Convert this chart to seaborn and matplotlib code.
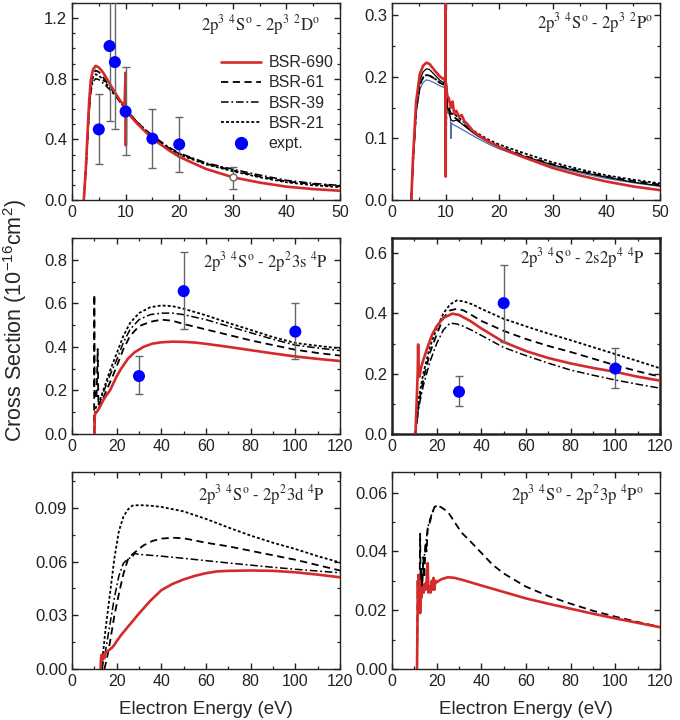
import matplotlib
matplotlib.use("Agg")
import matplotlib.pyplot as plt
import seaborn as sns
import pandas as pd
from matplotlib.lines import Line2D
from matplotlib.ticker import MultipleLocator, FormatStrFormatter

# ---------------- Panel A : 2p3 4So - 2p3 2Do ----------------
A_E_690 = [2.2, 2.6, 2.9, 3.2, 3.5, 3.9, 4.4, 5.0, 5.5, 6.0, 7.0, 8.0, 9.0, 9.8, 10.0, 10.05, 10.1, 10.3, 10.6, 11, 12, 14, 16, 18, 20, 25, 30, 35, 40, 45, 50]
A_S_690 = [0.0, 0.22, 0.44, 0.65, 0.79, 0.86, 0.885, 0.875, 0.855, 0.83, 0.77, 0.71, 0.655, 0.62, 0.84, 0.36, 0.60, 0.59, 0.575, 0.55, 0.51, 0.44, 0.38, 0.33, 0.285, 0.205, 0.15, 0.115, 0.088, 0.072, 0.061]
A_E_BL = [2.2, 2.6, 2.9, 3.2, 3.5, 3.9, 4.4, 5.0, 5.5, 6.0, 7.0, 8.0, 9.0, 10.0, 11, 12, 14, 16, 18, 20, 25, 30, 35, 40, 45, 50]
A_S_61 = [0, 0.21, 0.42, 0.62, 0.76, 0.83, 0.855, 0.845, 0.825, 0.8, 0.75, 0.7, 0.65, 0.605, 0.56, 0.52, 0.45, 0.395, 0.345, 0.305, 0.24, 0.195, 0.155, 0.122, 0.105, 0.09]
A_S_39 = [0, 0.2, 0.4, 0.58, 0.71, 0.78, 0.80, 0.795, 0.78, 0.765, 0.73, 0.69, 0.645, 0.6, 0.56, 0.52, 0.455, 0.4, 0.35, 0.31, 0.245, 0.203, 0.165, 0.13, 0.11, 0.096]
A_S_21 = [0, 0.2, 0.41, 0.6, 0.73, 0.81, 0.83, 0.82, 0.805, 0.785, 0.74, 0.695, 0.648, 0.6, 0.555, 0.515, 0.448, 0.392, 0.342, 0.3, 0.235, 0.19, 0.15, 0.117, 0.097, 0.085]
A_X_EXP = [5, 7, 8, 10, 15, 20]
A_Y_EXP = [0.466, 1.016, 0.91, 0.584, 0.405, 0.367]
A_LO_EXP = [0.24, 0.52, 0.47, 0.30, 0.21, 0.186]
A_HI_EXP = [0.70, 1.50, 1.50, 0.88, 0.60, 0.55]
A_X_OPEN = [30]
A_Y_OPEN = [0.149]
A_LO_OPEN = [0.07]
A_HI_OPEN = [0.22]

# ---------------- Panel B : 2p3 4So - 2p3 2Po ----------------
B_E_690 = [3.6, 3.9, 4.5, 5.2, 5.8, 6.4, 7.0, 8.0, 9.0, 9.7, 9.95, 10.0, 10.02, 10.04, 10.3, 10.6, 11.0, 11.3, 11.6, 12.0, 12.5, 13.0, 13.5, 14, 15, 16, 18, 20, 22, 25, 30, 35, 40, 45, 50]
B_S_690 = [0, 0.065, 0.16, 0.205, 0.218, 0.223, 0.221, 0.21, 0.2, 0.196, 0.2, 0.34, 0.038, 0.19, 0.17, 0.165, 0.15, 0.16, 0.14, 0.145, 0.135, 0.138, 0.128, 0.124, 0.113, 0.106, 0.095, 0.086, 0.078, 0.068, 0.052, 0.04, 0.03, 0.022, 0.016]
B_E_BL = [3.6, 3.9, 4.5, 5.2, 5.8, 6.4, 7.0, 8.0, 9.0, 9.7, 10.0, 10.3, 10.6, 11.0, 11.5, 12.0, 13, 14, 15, 16, 18, 20, 25, 30, 35, 40, 45, 50]
B_S_SOL = [0, 0.06, 0.15, 0.195, 0.208, 0.213, 0.212, 0.203, 0.194, 0.19, 0.2, 0.15, 0.145, 0.13, 0.128, 0.13, 0.124, 0.117, 0.11, 0.104, 0.094, 0.086, 0.07, 0.057, 0.046, 0.037, 0.029, 0.023]
B_S_61 = [0, 0.058, 0.145, 0.188, 0.199, 0.203, 0.202, 0.197, 0.19, 0.187, 0.21, 0.16, 0.15, 0.14, 0.135, 0.132, 0.126, 0.118, 0.111, 0.105, 0.095, 0.087, 0.071, 0.058, 0.047, 0.038, 0.031, 0.025]
B_E_21 = [3.6, 3.9, 4.5, 5.2, 5.8, 6.4, 7.0, 8.0, 9.0, 9.7, 9.9, 10.0, 10.1, 10.2, 10.4, 10.7, 11.0, 11.5, 12.0, 13, 14, 15, 16, 18, 20, 25, 30, 35, 40, 45, 50]
B_S_21 = [0, 0.058, 0.145, 0.188, 0.199, 0.203, 0.202, 0.197, 0.19, 0.188, 0.2, 0.25, 0.12, 0.16, 0.15, 0.145, 0.14, 0.14, 0.137, 0.13, 0.122, 0.114, 0.108, 0.098, 0.09, 0.075, 0.061, 0.05, 0.04, 0.033, 0.027]
B_E_BLU = [3.6, 3.9, 4.5, 5.2, 5.8, 6.4, 7.0, 8.0, 9.0, 9.7, 10.0, 10.3, 10.6, 10.9, 11.0, 11.1, 11.5, 12.0, 13, 14, 15, 16, 18, 20, 25, 30, 35, 40, 45, 50]
B_S_BLU = [0, 0.055, 0.14, 0.18, 0.191, 0.195, 0.194, 0.19, 0.185, 0.183, 0.19, 0.145, 0.14, 0.135, 0.10, 0.125, 0.122, 0.12, 0.115, 0.11, 0.105, 0.1, 0.091, 0.083, 0.068, 0.055, 0.044, 0.035, 0.028, 0.022]

# ---------------- Panel C : 2p3 4So - 2p2 3s 4P ----------------
C_E_690 = [10.0, 10.2, 10.5, 11, 12, 13, 14, 15, 17, 20, 22, 25, 28, 32, 36, 40, 45, 50, 55, 60, 70, 80, 90, 100, 110, 120]
C_S_690 = [0, 0.08, 0.1, 0.1, 0.115, 0.135, 0.155, 0.172, 0.2, 0.265, 0.3, 0.345, 0.375, 0.4, 0.415, 0.421, 0.424, 0.423, 0.42, 0.414, 0.4, 0.385, 0.37, 0.356, 0.345, 0.335]
C_E_61 = [9.9, 10.0, 10.1, 10.5, 11.0, 11.5, 11.8, 12.3, 13, 15, 18, 20, 23, 26, 30, 35, 40, 45, 50, 60, 70, 80, 90, 100, 110, 120]
C_S_61 = [0, 0.64, 0.2, 0.16, 0.17, 0.39, 0.15, 0.12, 0.14, 0.19, 0.26, 0.31, 0.39, 0.45, 0.495, 0.515, 0.525, 0.52, 0.505, 0.48, 0.455, 0.43, 0.408, 0.387, 0.372, 0.36]
C_E_BL = [10.0, 10.5, 12, 14, 17, 20, 23, 26, 30, 35, 40, 45, 50, 60, 70, 80, 90, 100, 110, 120]
C_S_39 = [0, 0.12, 0.13, 0.19, 0.27, 0.34, 0.42, 0.48, 0.525, 0.548, 0.555, 0.555, 0.548, 0.525, 0.495, 0.465, 0.435, 0.408, 0.395, 0.383]
C_S_21 = [0, 0.12, 0.14, 0.2, 0.29, 0.37, 0.45, 0.51, 0.555, 0.582, 0.59, 0.587, 0.575, 0.545, 0.51, 0.478, 0.445, 0.418, 0.405, 0.393]
C_X_EXP = [30, 50, 100]
C_Y_EXP = [0.266, 0.656, 0.47]
C_LO_EXP = [0.183, 0.48, 0.345]
C_HI_EXP = [0.357, 0.835, 0.603]

# ---------------- Panel D : 2p3 4So - 2s2p4 4P ----------------
D_E_690 = [10.5, 11, 11.5, 11.7, 11.9, 12.3, 13, 14, 16, 18, 20, 23, 27, 30, 35, 40, 50, 60, 70, 80, 90, 100, 110, 120]
D_S_690 = [0, 0.1, 0.2, 0.297, 0.2, 0.19, 0.22, 0.245, 0.29, 0.33, 0.357, 0.385, 0.399, 0.395, 0.375, 0.35, 0.305, 0.275, 0.252, 0.234, 0.219, 0.206, 0.19, 0.177]
D_E_BL = [10.5, 12, 14, 17, 20, 23, 26, 29, 32, 36, 40, 50, 60, 70, 80, 90, 100, 110, 120]
D_S_21 = [0, 0.12, 0.2, 0.29, 0.35, 0.4, 0.43, 0.443, 0.44, 0.43, 0.415, 0.382, 0.357, 0.333, 0.311, 0.288, 0.265, 0.242, 0.218]
D_S_61 = [0, 0.1, 0.18, 0.27, 0.33, 0.385, 0.41, 0.415, 0.41, 0.393, 0.375, 0.342, 0.315, 0.292, 0.272, 0.25, 0.228, 0.208, 0.19]
D_S_39 = [0, 0.09, 0.16, 0.24, 0.3, 0.345, 0.368, 0.365, 0.357, 0.343, 0.327, 0.287, 0.26, 0.235, 0.212, 0.195, 0.179, 0.165, 0.152]
D_X_EXP = [30, 50, 100]
D_Y_EXP = [0.14, 0.434, 0.217]
D_LO_EXP = [0.093, 0.305, 0.152]
D_HI_EXP = [0.192, 0.562, 0.284]

# ---------------- Panel E : 2p3 4So - 2p2 3d 4P ----------------
E_E_690 = [12.8, 13.0, 13.3, 13.6, 14, 14.5, 15, 16, 17, 18, 19, 20, 22, 25, 28, 30, 35, 40, 45, 50, 55, 60, 65, 70, 80, 90, 100, 110, 120]
E_S_690 = [0, 0.006, 0.008, 0.005, 0.008, 0.006, 0.009, 0.01, 0.011, 0.012, 0.0135, 0.0155, 0.019, 0.0235, 0.028, 0.031, 0.038, 0.044, 0.0475, 0.05, 0.052, 0.0535, 0.0545, 0.0548, 0.055, 0.0548, 0.054, 0.0527, 0.0512]
E_E_21 = [13, 14, 15, 17, 19, 21, 23, 25, 27, 30, 35, 40, 50, 60, 70, 80, 90, 100, 110, 120]
E_S_21 = [0, 0.01, 0.022, 0.042, 0.062, 0.077, 0.085, 0.089, 0.0912, 0.0915, 0.0912, 0.0905, 0.088, 0.0838, 0.079, 0.0745, 0.0705, 0.067, 0.063, 0.0595]
E_E_61 = [14.5, 15.5, 17, 19, 21, 23, 25, 27, 29, 32, 36, 40, 45, 50, 60, 70, 80, 90, 100, 110, 120]
E_S_61 = [0, 0.005, 0.015, 0.03, 0.042, 0.053, 0.061, 0.064, 0.066, 0.069, 0.0715, 0.0728, 0.0733, 0.073, 0.0705, 0.0685, 0.066, 0.0635, 0.061, 0.058, 0.055]
E_E_39 = [13.5, 14, 15, 17, 19, 21, 23, 25, 27, 28, 30, 35, 40, 50, 60, 70, 80, 90, 100, 110, 120]
E_S_39 = [0, 0.004, 0.01, 0.025, 0.04, 0.052, 0.059, 0.0615, 0.0625, 0.0645, 0.064, 0.0635, 0.063, 0.0618, 0.0605, 0.0592, 0.058, 0.0568, 0.0557, 0.0547, 0.0537]

# ---------------- Panel F : 2p3 4So - 2p2 3p 4Po ----------------
F_E_690 = [11.2, 11.4, 11.6, 11.8, 12.0, 12.2, 12.4, 12.6, 12.8, 13.0, 13.4, 13.8, 14.2, 14.6, 15.0, 15.5, 16.0, 16.3, 16.8, 17.3, 17.8, 18.2, 18.6, 19.0, 19.4, 20, 22, 25, 28, 32, 36, 40, 50, 60, 70, 80, 90, 100, 110, 120]
F_S_690 = [0, 0.015, 0.03, 0.022, 0.032, 0.024, 0.03, 0.019, 0.027, 0.024, 0.026, 0.028, 0.026, 0.029, 0.027, 0.03, 0.036, 0.026, 0.028, 0.026, 0.03, 0.027, 0.031, 0.027, 0.03, 0.0295, 0.0305, 0.0312, 0.031, 0.0302, 0.0293, 0.0284, 0.0262, 0.024, 0.0222, 0.0205, 0.0188, 0.0172, 0.0157, 0.0142]
F_E_61 = [11.2, 11.4, 11.6, 11.8, 12.0, 12.3, 12.6, 12.9, 13.2, 13.6, 14.0, 14.5, 15.0, 15.5, 16, 17, 18, 19, 20, 22, 25, 28, 31, 35, 40, 45, 50, 60, 70, 80, 90, 100, 110, 120]
F_S_61 = [0, 0.02, 0.032, 0.022, 0.03, 0.025, 0.046, 0.022, 0.034, 0.028, 0.038, 0.031, 0.043, 0.04, 0.048, 0.05, 0.053, 0.055, 0.0558, 0.055, 0.0535, 0.05, 0.0465, 0.0435, 0.0395, 0.0355, 0.0325, 0.028, 0.0248, 0.0222, 0.0198, 0.0178, 0.016, 0.0143]
F_E_39 = [14.0, 15.0, 16.0, 17.0, 18.0, 19.0, 20.0]
F_S_39 = [0.035, 0.042, 0.048, 0.051, 0.053, 0.055, 0.0555]

LEGEND_LABELS = ["BSR-690", "BSR-61", "BSR-39", "BSR-21", "expt."]
TITLES = [r"2p$^3$ $^4$S$^\mathrm{o}$ - 2p$^3$ $^2$D$^\mathrm{o}$",
          r"2p$^3$ $^4$S$^\mathrm{o}$ - 2p$^3$ $^2$P$^\mathrm{o}$",
          r"2p$^3$ $^4$S$^\mathrm{o}$ - 2p$^2$3s $^4$P",
          r"2p$^3$ $^4$S$^\mathrm{o}$ - 2s2p$^4$ $^4$P",
          r"2p$^3$ $^4$S$^\mathrm{o}$ - 2p$^2$3d $^4$P",
          r"2p$^3$ $^4$S$^\mathrm{o}$ - 2p$^2$3p $^4$P$^\mathrm{o}$"]

# ---------------- styling ----------------
sns.set_style("ticks")
plt.rcParams["font.family"] = ["Liberation Sans", "DejaVu Sans"]
plt.rcParams["mathtext.fontset"] = "custom"
plt.rcParams["mathtext.rm"] = "Liberation Sans"
plt.rcParams["mathtext.it"] = "Liberation Sans:italic"
plt.rcParams["xtick.direction"] = "in"
plt.rcParams["ytick.direction"] = "in"

RED = "#d42a2a"
STY = {
    "690": dict(color=RED, lw=1.9, linestyle="-"),
    "61": dict(color="black", lw=1.3, linestyle=(0, (4, 2.5))),
    "39": dict(color="black", lw=1.1, linestyle=(0, (5, 1.8, 1.2, 1.8))),
    "21": dict(color="black", lw=1.3, linestyle=(0, (1.6, 1.2))),
    "sol": dict(color="black", lw=0.9, linestyle="-"),
    "blu": dict(color="#4a6fb5", lw=0.9, linestyle="-"),
}

fig = plt.figure(figsize=(6.8, 7.2), dpi=100)
L0, R0, W = 72 / 680, 392 / 680, 268 / 680
rows = [(1 - 200 / 720, 197 / 720), (1 - 434 / 720, 196 / 720), (1 - 669 / 720, 197 / 720)]
axes = []
for (b, h) in rows:
    for l in (L0, R0):
        axes.append(fig.add_axes([l, b, W, h]))


def line(ax, xs, ys, key, z=2):
    df = pd.DataFrame({"E": xs, "S": ys})
    s = STY[key]
    sns.lineplot(data=df, x="E", y="S", ax=ax, estimator=None, sort=False,
                 color=s["color"], lw=s["lw"], linestyle=s["linestyle"], zorder=z)


def expt(ax, xs, ys, lo, hi):
    yerr = [[y - a for y, a in zip(ys, lo)], [b - y for y, b in zip(ys, hi)]]
    ax.errorbar(xs, ys, yerr=yerr, fmt="none", ecolor="#666666", elinewidth=1.0,
                capsize=3, capthick=1.0, zorder=4)
    df = pd.DataFrame({"E": xs, "S": ys})
    sns.scatterplot(data=df, x="E", y="S", ax=ax, color="#0000ff", s=75,
                    edgecolor="none", zorder=5)


# Panel A
ax = axes[0]
line(ax, A_E_BL, A_S_21, "21")
line(ax, A_E_BL, A_S_39, "39")
line(ax, A_E_BL, A_S_61, "61")
line(ax, A_E_690, A_S_690, "690", 3)
expt(ax, A_X_EXP, A_Y_EXP, A_LO_EXP, A_HI_EXP)
ax.errorbar(A_X_OPEN, A_Y_OPEN,
            yerr=[[A_Y_OPEN[0] - A_LO_OPEN[0]], [A_HI_OPEN[0] - A_Y_OPEN[0]]],
            fmt="o", ms=5, mfc="white", mec="#666666", ecolor="#666666",
            elinewidth=1.0, capsize=3, zorder=5)

# Panel B
ax = axes[1]
line(ax, B_E_BLU, B_S_BLU, "blu")
line(ax, B_E_BL, B_S_SOL, "sol")
line(ax, B_E_BL, B_S_61, "61")
line(ax, B_E_21, B_S_21, "21")
line(ax, B_E_690, B_S_690, "690", 3)

# Panel C
ax = axes[2]
line(ax, C_E_BL, C_S_21, "21")
line(ax, C_E_BL, C_S_39, "39")
line(ax, C_E_61, C_S_61, "61")
line(ax, C_E_690, C_S_690, "690", 3)
expt(ax, C_X_EXP, C_Y_EXP, C_LO_EXP, C_HI_EXP)

# Panel D
ax = axes[3]
line(ax, D_E_BL, D_S_21, "21")
line(ax, D_E_BL, D_S_39, "39")
line(ax, D_E_BL, D_S_61, "61")
line(ax, D_E_690, D_S_690, "690", 3)
expt(ax, D_X_EXP, D_Y_EXP, D_LO_EXP, D_HI_EXP)

# Panel E
ax = axes[4]
line(ax, E_E_21, E_S_21, "21")
line(ax, E_E_39, E_S_39, "39")
line(ax, E_E_61, E_S_61, "61")
line(ax, E_E_690, E_S_690, "690", 3)

# Panel F
ax = axes[5]
line(ax, F_E_39, F_S_39, "39")
line(ax, F_E_61, F_S_61, "61")
line(ax, F_E_690, F_S_690, "690", 3)

# axes settings
XLIM = [50, 50, 120, 120, 120, 120]
YLIM = [1.3, 0.32, 0.9, 0.65, 0.11, 0.067]
XMAJ = [10, 10, 20, 20, 20, 20]
YMAJ = [0.4, 0.1, 0.2, 0.2, 0.03, 0.02]
YMIN = [0.1, 0.05, 0.1, 0.1, 0.015, 0.01]
YFMT = ["%.1f", "%.1f", "%.1f", "%.1f", "%.2f", "%.2f"]
TPOS = [(0.925, 0.888), (0.975, 0.898), (0.955, 0.879), (0.945, 0.898), (0.945, 0.883), (0.94, 0.883)]

for i, ax in enumerate(axes):
    ax.set_xlim(0, XLIM[i])
    ax.set_ylim(0, YLIM[i])
    ax.xaxis.set_major_locator(MultipleLocator(XMAJ[i]))
    ax.xaxis.set_minor_locator(MultipleLocator(XMAJ[i] / 2))
    ax.yaxis.set_major_locator(MultipleLocator(YMAJ[i]))
    ax.yaxis.set_minor_locator(MultipleLocator(YMIN[i]))
    ax.yaxis.set_major_formatter(FormatStrFormatter(YFMT[i]))
    ax.tick_params(which="both", direction="in", top=True, right=True, colors="#222222")
    ax.tick_params(axis="x", labelsize=11.5)
    ax.tick_params(axis="y", labelsize=12)
    ax.tick_params(which="major", length=4.5, width=1.0)
    ax.tick_params(which="minor", length=2.5, width=0.9)
    lw = 1.8 if i == 3 else 1.0
    for sp in ax.spines.values():
        sp.set_linewidth(lw)
        sp.set_color("#222222")
    ax.set_xlabel("")
    ax.set_ylabel("")
    ax.text(TPOS[i][0], TPOS[i][1], TITLES[i], transform=ax.transAxes,
            ha="right", va="center", fontsize=12, family="STIXGeneral",
            math_fontfamily="stix")

for ax in axes[4:]:
    ax.set_xlabel("Electron Energy (eV)", fontsize=13.5, labelpad=9)

fig.text(0.022, 0.555, r"Cross Section (10$^{-16}$cm$^2$)", rotation=90,
         ha="center", va="center", fontsize=15.5)

handles = [Line2D([], [], **{k: v for k, v in STY[k2].items()}) for k2 in ["690", "61", "39", "21"]]
handles.append(Line2D([], [], marker="o", ls="none", color="#0000ff", ms=8.5))
axes[0].legend(handles, LEGEND_LABELS, loc="upper left", bbox_to_anchor=(0.555, 0.735),
               frameon=False, fontsize=11.5, handlelength=2.5, handletextpad=0.5,
               labelspacing=0.33, borderpad=0, borderaxespad=0)

fig.savefig("out.png", dpi=100)
